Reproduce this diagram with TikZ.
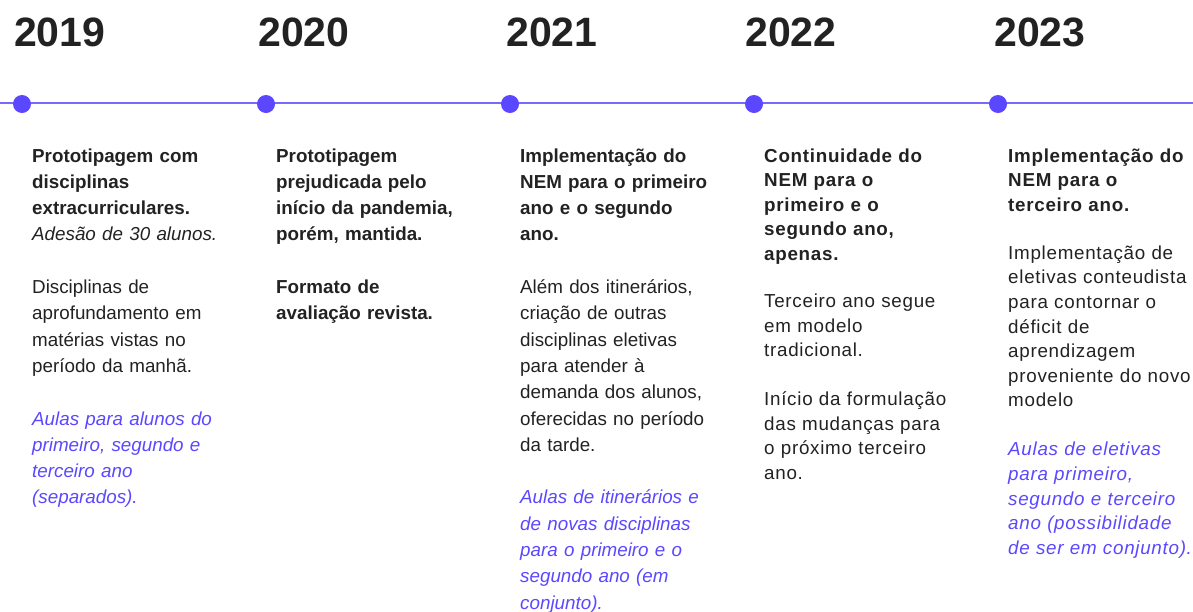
\documentclass[tikz,border=0pt]{standalone}
\usepackage{fontspec}
\setmainfont{Liberation Sans}
\newfontfamily\spacedfont[LetterSpace=3.8]{Liberation Sans}
\usepackage{xcolor}
\usepackage{tikz}
\usetikzlibrary{positioning}

\definecolor{violet}{HTML}{5B47FF}
\definecolor{violetline}{HTML}{7A69FF}
\definecolor{inkgray}{HTML}{222222}

\tikzset{
	year/.style={anchor=base west, inner sep=0pt, text=inkgray,
		font=\fontsize{41}{41}\selectfont\bfseries},
	dot/.style={circle, fill=violet, inner sep=0pt, minimum size=18pt},
	body/.style={anchor=base west, inner sep=0pt, text width=260pt, align=left,
		text=inkgray, font=\fontsize{18.8}{26.3}\selectfont},
	bodywide/.style={body, font=\spacedfont\fontsize{18.8}{24.6}\selectfont},
}
\newcommand{\note}[1]{{\color{violet}\itshape #1}}

\begin{document}
\begin{tikzpicture}[x=1pt, y=-1pt]

	\useasboundingbox (0,0) rectangle (1193,611);

	% the time axis runs across the whole width
	\coordinate (L) at (0,103);
	\coordinate (R) at (1193,103);
	\draw[violetline, line width=2pt] (L) -- (R);

	% one dot for every year
	\node[dot] (D1) at (22,104) {};
	\node[dot] (D2) at (266,104) {};
	\node[dot] (D3) at (510,104) {};
	\node[dot] (D4) at (754,104) {};
	\node[dot] (D5) at (998,104) {};

	% years above the axis
	\node[year] (Y1) at (14,46) {2019};
	\node[year] (Y2) at (258,46) {2020};
	\node[year] (Y3) at (506,46) {2021};
	\node[year] (Y4) at (745,46) {2022};
	\node[year] (Y5) at (994,46) {2023};

	%%%%%%%%%%%%%%%%%%%%%%%%%%%%%%%%%%%%%%%%%%%%%%%%%%%%%%%%%%%%%%
	% text under each dot
	\node[body] (T1) at (32,162) {%
		\textbf{Prototipagem com}\\
		\textbf{disciplinas}\\
		\textbf{extracurriculares.}\\
		\textit{Adesão de 30 alunos.}\\[26.3pt]
		Disciplinas de\\
		aprofundamento em\\
		matérias vistas no\\
		período da manhã.\\[26.3pt]
		\note{Aulas para alunos do\\
		primeiro, segundo e\\
		terceiro ano\\
		(separados).}};

	\node[body] (T2) at (276,162) {%
		\textbf{Prototipagem}\\
		\textbf{prejudicada pelo}\\
		\textbf{início da pandemia,}\\
		\textbf{porém, mantida.}\\[26.3pt]
		\textbf{Formato de}\\
		\textbf{avaliação revista.}};

	\node[body] (T3) at (520,162) {%
		\textbf{Implementação do}\\
		\textbf{NEM para o primeiro}\\
		\textbf{ano e o segundo}\\
		\textbf{ano.}\\[26.3pt]
		Além dos itinerários,\\
		criação de outras\\
		disciplinas eletivas\\
		para atender à\\
		demanda dos alunos,\\
		oferecidas no período\\
		da tarde.\\[26.3pt]
		\note{Aulas de itinerários e\\
		de novas disciplinas\\
		para o primeiro e o\\
		segundo ano (em\\
		conjunto).}};

	\node[bodywide] (T4) at (764,162) {%
		\textbf{Continuidade do}\\
		\textbf{NEM para o}\\
		\textbf{primeiro e o}\\
		\textbf{segundo ano,}\\
		\textbf{apenas.}\\[22.4pt]
		Terceiro ano segue\\
		em modelo\\
		tradicional.\\[24.4pt]
		Início da formulação\\
		das mudanças para\\
		o próximo terceiro\\
		ano.};

	\node[bodywide] (T5) at (1008,162) {%
		\textbf{Implementação do}\\
		\textbf{NEM para o}\\
		\textbf{terceiro ano.}\\[23.4pt]
		Implementação de\\
		eletivas conteudista\\
		para contornar o\\
		déficit de\\
		aprendizagem\\
		proveniente do novo\\
		modelo\\[24.4pt]
		\note{Aulas de eletivas\\
		para primeiro,\\
		segundo e terceiro\\
		ano (possibilidade\\
		de ser em conjunto).}};

\end{tikzpicture}
\end{document}
